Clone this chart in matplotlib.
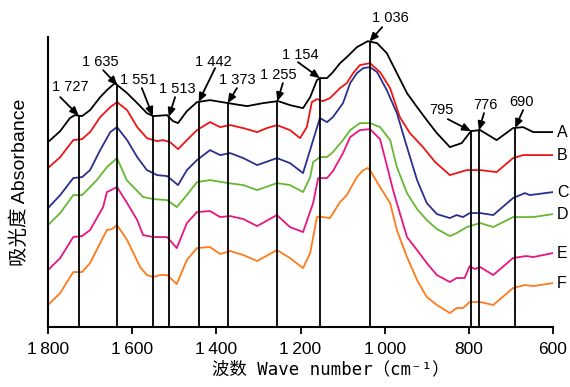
import numpy as np
import matplotlib.pyplot as plt

plt.rcParams["font.family"] = ["Liberation Sans", "DejaVu Sans"]

# wavenumber (cm-1) / absorbance (arbitrary units, curves stacked)
wn_a = [1800, 1771, 1748, 1736, 1719, 1700, 1676, 1660, 1641, 1612, 1588, 1565, 1550, 1517, 1503,
        1491, 1470, 1446, 1415, 1372, 1327, 1289, 1253, 1225, 1194, 1177, 1161, 1154, 1137, 1123,
        1106, 1090, 1066, 1040, 1018, 995, 971, 947, 923, 900, 876, 845, 817, 795, 773, 734,
        695, 671, 647, 600]
abs_a = [185, 196, 209, 212, 211, 217, 230, 237, 244, 234, 224, 214, 211, 212, 206,
         204, 216, 225, 227, 224, 221, 224, 226, 222, 219, 230, 247, 249, 249, 255,
         264, 270, 280, 286, 284, 274, 254, 234, 220, 207, 194, 180, 184, 196, 197, 187,
         199, 200, 195, 195]

wn_b = [1800, 1771, 1740, 1719, 1700, 1676, 1652, 1636, 1612, 1588, 1565, 1541, 1527, 1510, 1491,
        1470, 1446, 1415, 1391, 1367, 1336, 1303, 1280, 1256, 1225, 1201, 1185, 1173, 1161, 1147,
        1130, 1106, 1090, 1075, 1059, 1035, 1011, 987, 964, 940, 909, 880, 845, 805, 773, 734,
        695, 671, 600]
abs_b = [159, 170, 187, 188, 195, 210, 220, 225, 217, 200, 189, 186, 187, 185, 178,
         187, 197, 205, 200, 202, 199, 195, 199, 202, 197, 189, 200, 225, 228, 226,
         229, 239, 244, 254, 262, 264, 255, 239, 210, 194, 180, 165, 152, 157, 157, 155,
         169, 172, 172]

wn_c = [1800, 1771, 1740, 1719, 1700, 1676, 1652, 1636, 1612, 1588, 1565, 1541, 1517, 1491, 1470,
        1446, 1415, 1391, 1367, 1336, 1303, 1256, 1225, 1194, 1170, 1154, 1137, 1123, 1099, 1082,
        1066, 1051, 1035, 1018, 995, 971, 947, 923, 900, 876, 845, 829, 814, 798, 773, 742,
        695, 667, 655, 600]
abs_c = [119, 132, 149, 150, 157, 177, 195, 200, 187, 170, 157, 152, 151, 142, 157,
         167, 177, 172, 174, 169, 162, 169, 164, 154, 187, 209, 205, 210, 224, 244,
         254, 259, 260, 255, 237, 214, 180, 147, 124, 113, 109, 112, 110, 114, 114, 112,
         129, 134, 132, 135]

wn_d = [1800, 1771, 1740, 1719, 1700, 1684, 1660, 1636, 1613, 1574, 1550, 1517, 1494, 1470, 1446,
        1415, 1372, 1336, 1303, 1256, 1225, 1194, 1177, 1170, 1154, 1137, 1123, 1099, 1082, 1059,
        1035, 1011, 987, 971, 947, 923, 900, 876, 845, 829, 805, 773, 742, 695, 647, 600]
abs_d = [102, 114, 132, 132, 140, 147, 160, 169, 147, 130, 128, 127, 120, 132, 145,
         147, 144, 142, 137, 144, 142, 135, 150, 165, 170, 170, 175, 187, 197, 204,
         204, 200, 187, 160, 134, 118, 107, 98, 91, 94, 100, 104, 100, 110, 110, 113]

wn_e = [1800, 1771, 1740, 1719, 1700, 1669, 1660, 1636, 1612, 1588, 1574, 1550, 1517, 1494, 1470,
        1446, 1415, 1391, 1367, 1336, 1303, 1256, 1225, 1194, 1170, 1158, 1137, 1123, 1099, 1082,
        1059, 1035, 1011, 995, 980, 964, 947, 923, 900, 876, 845, 829, 810, 798, 786, 773,
        742, 695, 664, 647, 600]
abs_e = [57, 69, 90, 91, 97, 120, 135, 140, 124, 107, 92, 90, 90, 79, 104,
         115, 116, 110, 111, 108, 101, 112, 100, 95, 124, 149, 149, 156, 174, 190,
         197, 198, 188, 162, 137, 114, 90, 77, 64, 52, 45, 49, 49, 61, 58, 60,
         52, 69, 71, 70, 74]

wn_f = [1800, 1771, 1740, 1719, 1700, 1676, 1660, 1648, 1636, 1612, 1581, 1565, 1550, 1534, 1517,
        1494, 1470, 1446, 1415, 1391, 1367, 1336, 1303, 1256, 1225, 1194, 1177, 1161, 1147, 1130,
        1106, 1090, 1066, 1051, 1040, 1035, 1011, 987, 971, 947, 923, 900, 876, 845, 829, 814,
        798, 773, 742, 695, 667, 647, 600]
abs_f = [22, 34, 55, 55, 64, 84, 97, 98, 102, 87, 60, 52, 50, 52, 52,
         43, 67, 79, 80, 73, 76, 72, 66, 77, 69, 59, 74, 110, 110, 109,
         125, 132, 150, 157, 159, 157, 140, 124, 97, 70, 47, 30, 22, 14, 19, 19,
         25, 25, 22, 39, 42, 41, 44]

curves = [(wn_a, abs_a, "A", "black"),
          (wn_b, abs_b, "B", "#f01414"),
          (wn_c, abs_c, "C", "#2b2f8f"),
          (wn_d, abs_d, "D", "#66b832"),
          (wn_e, abs_e, "E", "#e8147f"),
          (wn_f, abs_f, "F", "#ff7a1a")]

peaks = [1727, 1635, 1551, 1513, 1442, 1373, 1255, 1154, 1036, 795, 776, 690]
peak_text = ["1 727", "1 635", "1 551", "1 513", "1 442", "1 373", "1 255", "1 154", "1 036", "795", "776", "690"]
text_pos = [(1748, 240), (1676, 265), (1586, 247), (1493, 238), (1408, 265), (1351, 247),
            (1253, 252), (1201, 272), (987, 309), (864, 217), (761, 222), (674, 225)]
arrow_tail = [(1771, 230), (1669, 257), (1577, 239), (1498, 230), (1403, 259), (1351, 239),
              (1242, 244), (1206, 265), (1006, 300), (850, 208), (764, 214), (671, 217)]

fig = plt.figure(figsize=(5.7, 3.87), dpi=100)
ax = fig.add_axes([0.0842, 0.155, 0.886, 0.749])

for wn, ab, name, col in curves:
    ax.plot(wn, ab, color=col, lw=1.3)
    ax.text(591, ab[-1], name, fontsize=11.5, va="center", ha="left",
            family=["Liberation Sans Narrow", "Liberation Sans"], clip_on=False)

wa = np.array(wn_a[::-1])
aa = np.array(abs_a[::-1])
for p, lab, tp, tail in zip(peaks, peak_text, text_pos, arrow_tail):
    top = np.interp(p, wa, aa)
    ax.plot([p, p], [0, top], color="black", lw=1.3)
    ax.annotate("", xy=(p, top), xytext=tail,
                arrowprops=dict(arrowstyle="-|>,head_length=0.5,head_width=0.22",
                                color="black", lw=1.3, shrinkA=0, shrinkB=0))
    ax.text(tp[0], tp[1], lab, fontsize=10.5, ha="center", va="center")

ax.set_xlim(1800, 600)
ax.set_ylim(0, 290)
ax.set_xticks([1800, 1600, 1400, 1200, 1000, 800, 600])
ax.set_xticklabels(["1\u2009800", "1\u2009600", "1\u2009400", "1\u2009200", "1\u2009000", "800", "600"],
                   fontsize=12.5)
ax.set_yticks([])
ax.spines["top"].set_visible(False)
ax.spines["right"].set_visible(False)
ax.spines["left"].set_linewidth(1.5)
ax.spines["bottom"].set_linewidth(1.5)
ax.tick_params(axis="x", direction="out", length=5, width=1.3, pad=6)

ax.set_xlabel("波数 Wave number（cm\u207b\u00b9）", fontsize=12.5,
              family=["DejaVu Sans Mono", "Noto Sans CJK SC"])
ax.xaxis.set_label_coords(0.56, -0.115)
ax.set_ylabel("吸光度 Absorbance", fontsize=14,
              family=["Liberation Sans", "Noto Sans CJK SC"], labelpad=14)

fig.savefig("out.png", dpi=100)
